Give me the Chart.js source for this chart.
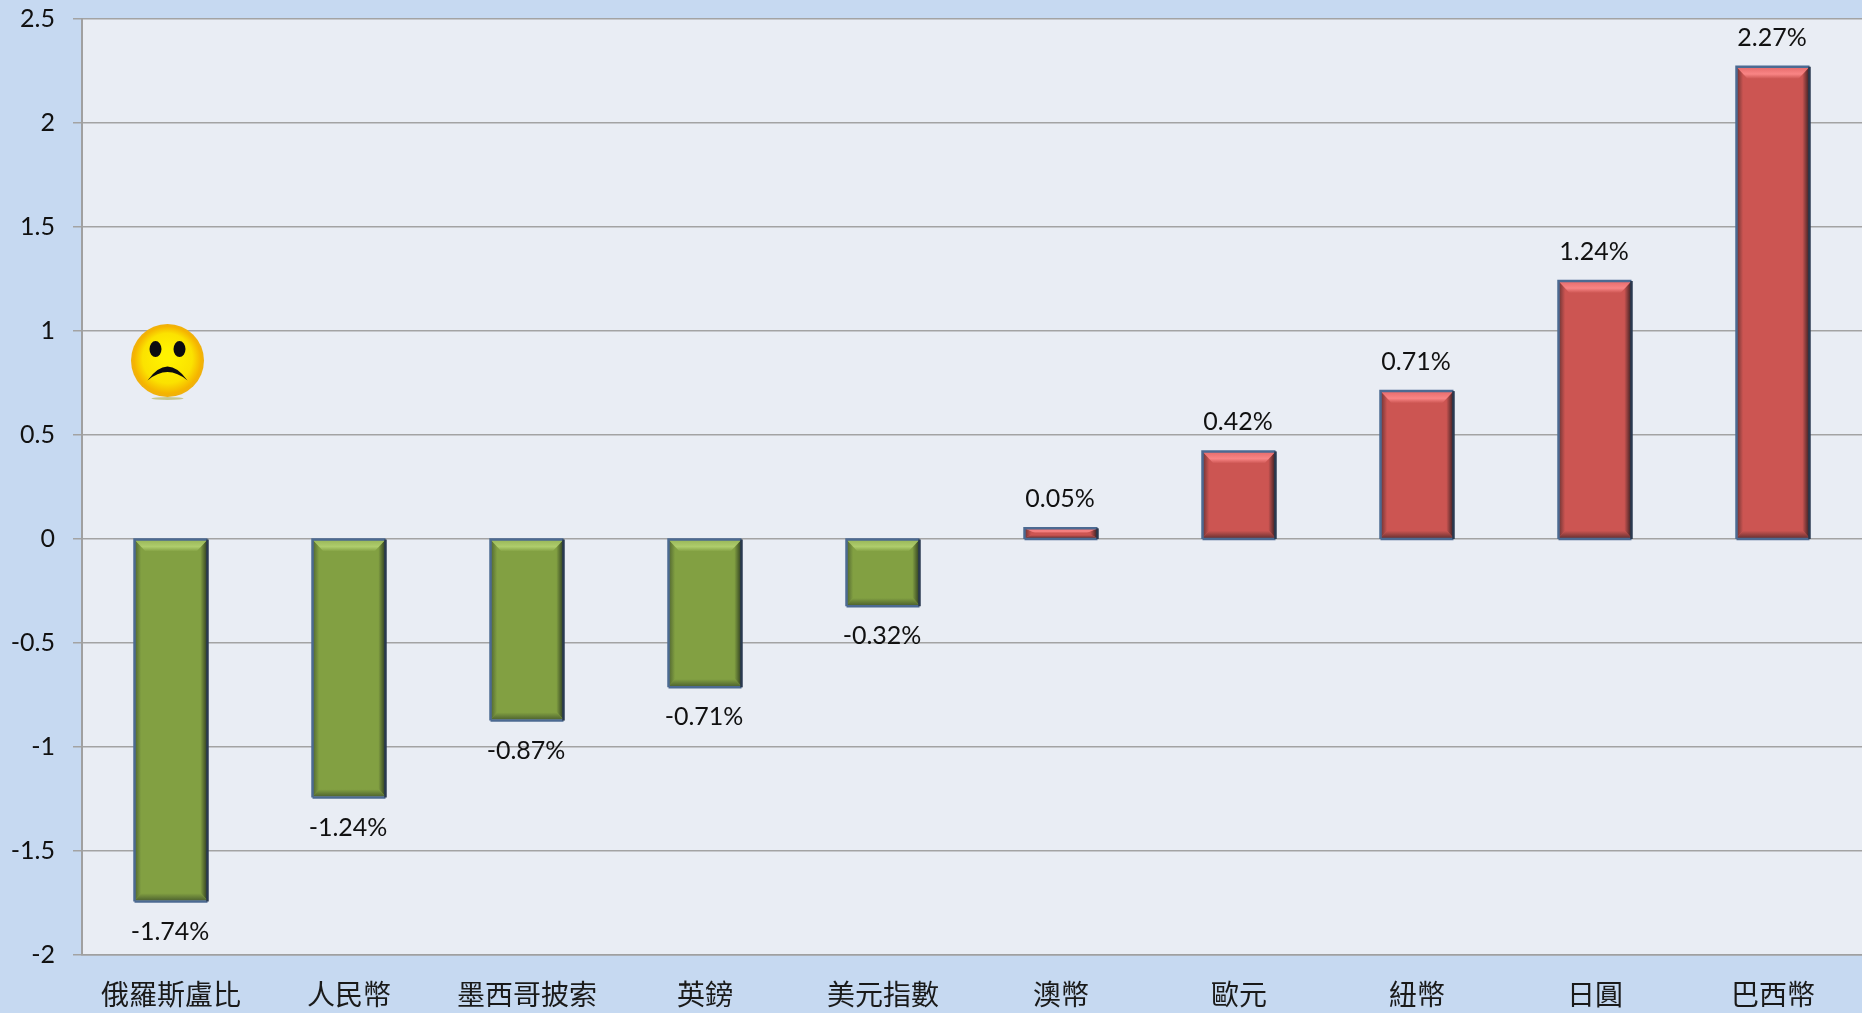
<!DOCTYPE html>
<html lang="zh-Hant">
<head>
<meta charset="utf-8">
<style>
html,body{margin:0;padding:0;background:#c6d9f1;overflow:hidden}
#wrap{position:absolute;left:0;top:0;width:1862px;height:1013px}
canvas{display:block}
</style>
<script src="https://cdn.jsdelivr.net/npm/chart.js@4/dist/chart.umd.min.js"></script>
</head>
<body>
<div id="wrap"><canvas id="c" width="1862" height="1013" role="img" aria-label="貨幣漲跌幅長條圖"></canvas></div>
<script>
const categories = ['俄羅斯盧比','人民幣','墨西哥披索','英鎊','美元指數','澳幣','歐元','紐幣','日圓','巴西幣'];
const values = [-1.74,-1.24,-0.87,-0.71,-0.32,0.05,0.42,0.71,1.24,2.27];
const yMin = -2, yMax = 2.5, yStep = 0.5;
const smileyAt = {categoryIndex:0, value:0.857};

const LATIN = 'Lato, Carlito, "Open Sans", sans-serif';
const CJK = '"Noto Sans CJK TC", "Noto Sans", sans-serif';
const RED = '#cc5552', GREEN = '#82a042';

const bevelPlugin = {
  id:'bevel',
  afterDatasetsDraw(chart){
    const ctx = chart.ctx;
    chart.getDatasetMeta(0).data.forEach((bar,i)=>{
      const up = values[i] >= 0;
      const l = bar.x-bar.width/2, r = bar.x+bar.width/2;
      const t = Math.min(bar.y,bar.base), b = Math.max(bar.y,bar.base);
      const h = b-t;
      const s = Math.min(12,h/2), sx = 11;
      const fill = up?RED:GREEN;
      const light = up ? '#f98585' : '#afcd6c';
      const dark = up ? '#6a3232' : '#4f6430';
      ctx.save();
      // left edge
      let g = ctx.createLinearGradient(l,0,l+sx,0);
      g.addColorStop(0,dark); g.addColorStop(.6,fill); g.addColorStop(1,fill);
      ctx.fillStyle=g; ctx.beginPath();
      ctx.moveTo(l,t);ctx.lineTo(l+sx,t+s);ctx.lineTo(l+sx,b-s);ctx.lineTo(l,b);ctx.closePath();ctx.fill();
      // right edge
      g = ctx.createLinearGradient(r-sx,0,r,0);
      g.addColorStop(0,fill); g.addColorStop(.35,fill); g.addColorStop(1,up?'#341d20':'#2c3a20');
      ctx.fillStyle=g; ctx.beginPath();
      ctx.moveTo(r,t);ctx.lineTo(r-sx,t+s);ctx.lineTo(r-sx,b-s);ctx.lineTo(r,b);ctx.closePath();ctx.fill();
      // bottom edge
      g = ctx.createLinearGradient(0,b-s,0,b);
      g.addColorStop(0,fill); g.addColorStop(.4,fill); g.addColorStop(1,dark);
      ctx.fillStyle=g; ctx.beginPath();
      ctx.moveTo(l,b);ctx.lineTo(l+sx,b-s);ctx.lineTo(r-sx,b-s);ctx.lineTo(r,b);ctx.closePath();ctx.fill();
      // top edge
      g = ctx.createLinearGradient(0,t,0,t+s);
      g.addColorStop(0,up?'#e56a6a':'#97b557'); g.addColorStop(.6,light); g.addColorStop(1,fill);
      ctx.fillStyle=g; ctx.beginPath();
      ctx.moveTo(l,t);ctx.lineTo(r,t);ctx.lineTo(r-sx,t+s);ctx.lineTo(l+sx,t+s);ctx.closePath();ctx.fill();
      // outline
      ctx.lineWidth=2.5;
      ctx.strokeStyle='#4c6a92';
      ctx.beginPath();ctx.moveTo(l,b+1);ctx.lineTo(l,t);ctx.lineTo(r,t);ctx.stroke();
      ctx.beginPath();ctx.moveTo(l,b+1);ctx.lineTo(r,b+1);ctx.stroke();
      ctx.strokeStyle='#2a3a50';
      ctx.beginPath();ctx.moveTo(r,t);ctx.lineTo(r,b+1);ctx.stroke();
      ctx.restore();
      // value label
      ctx.save();
      ctx.font='25px '+LATIN;
      ctx.fillStyle='#111';
      ctx.textAlign='center';ctx.textBaseline='middle';
      ctx.fillText(values[i].toFixed(2)+'%',bar.x-1,up?bar.y-29:bar.y+31);
      ctx.restore();
    });
  }
};

const backdropPlugin = {
  id:'backdrop',
  beforeDraw(chart){
    const a = chart.chartArea, ctx = chart.ctx;
    ctx.save();
    ctx.fillStyle='#c6d9f1';ctx.fillRect(0,0,chart.width,chart.height);
    ctx.fillStyle='#e9edf4';ctx.fillRect(a.left,a.top,a.right-a.left,a.bottom-a.top);
    ctx.restore();
  }
};

const smileyPlugin = {
  id:'smiley',
  afterDraw(chart){
    const ctx=chart.ctx;
    const x=chart.scales.x.getPixelForValue(smileyAt.categoryIndex)-3.5;
    const y=chart.scales.y.getPixelForValue(smileyAt.value);
    const R=36.5;
    ctx.save();
    ctx.translate(x,y);
    ctx.fillStyle='rgba(170,170,60,.55)';
    ctx.beginPath();ctx.ellipse(0,38,16,1.5,0,0,Math.PI*2);ctx.fill();
    const g=ctx.createRadialGradient(0,-6,6,0,0,R);
    g.addColorStop(0,'#fff200');g.addColorStop(.62,'#fbe200');g.addColorStop(.9,'#f5b400');g.addColorStop(1,'#eeb010');
    ctx.fillStyle=g;ctx.beginPath();ctx.arc(0,0,R,0,Math.PI*2);ctx.fill();
    ctx.fillStyle='#0b0b10';
    [-12,12].forEach(ex=>{ctx.beginPath();ctx.ellipse(ex,-11.5,6,8,0,0,Math.PI*2);ctx.fill();});
    ctx.beginPath();ctx.moveTo(-20,20);
    ctx.quadraticCurveTo(0,-8,20,20);
    ctx.quadraticCurveTo(0,3,-20,20);
    ctx.closePath();ctx.fill();
    ctx.restore();
  }
};

new Chart(document.getElementById('c'),{
  type:'bar',
  data:{labels:categories,datasets:[{
    data:values,
    backgroundColor:values.map(v=>v>=0?RED:GREEN),
    borderWidth:0,
    categoryPercentage:1,
    barPercentage:0.41
  }]},
  options:{
    responsive:false,
    animation:false,
    events:[],
    layout:{padding:{top:19,left:0,right:0,bottom:0}},
    plugins:{legend:{display:false},title:{display:false},tooltip:{enabled:false}},
    scales:{
      x:{
        position:'bottom',
        afterFit(s){s.height=58.5;s.paddingLeft=0;s.paddingRight=0;},
        grid:{display:false,drawTicks:false},
        border:{display:true,color:'#a0a0a0',width:1.5},
        ticks:{font:{family:CJK,size:28,weight:'400'},color:'#1a1a1a',padding:23,maxRotation:0,autoSkip:false}
      },
      y:{
        min:yMin,max:yMax,
        afterFit(s){s.width=82;s.paddingTop=0;s.paddingBottom=0;},
        grid:{color:'#a3a3a3',lineWidth:1.5,tickLength:9,drawTicks:true},
        border:{display:true,color:'#a0a0a0',width:2},
        ticks:{stepSize:yStep,font:{family:LATIN,size:25},color:'#111',padding:18,
          callback:v=>String(v)}
      }
    }
  },
  plugins:[backdropPlugin,bevelPlugin,smileyPlugin]
});
</script>
</body>
</html>
